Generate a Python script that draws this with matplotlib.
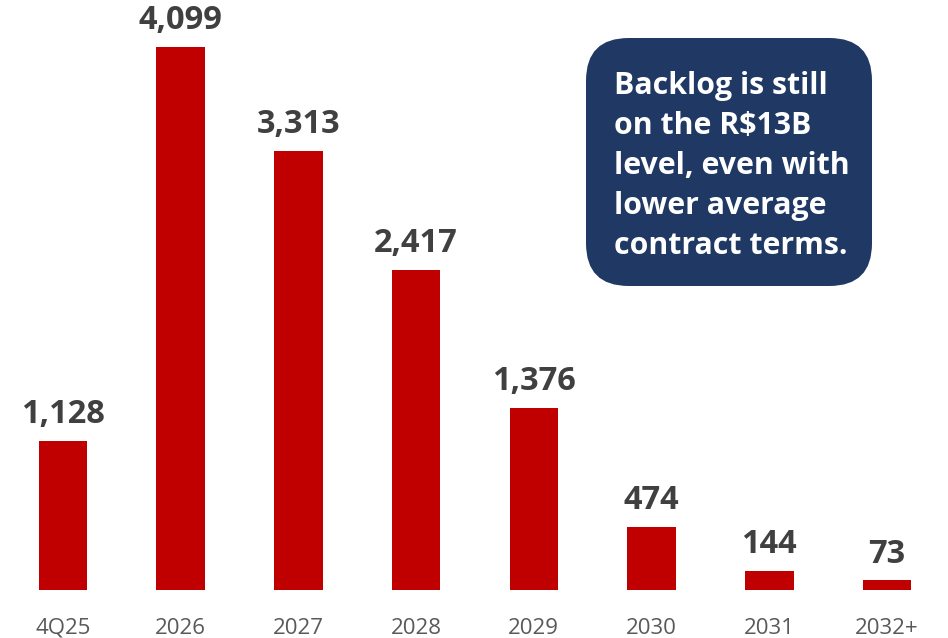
import matplotlib
matplotlib.use("Agg")
import matplotlib.pyplot as plt
from matplotlib.patches import FancyBboxPatch

categories = ["4Q25", "2026", "2027", "2028", "2029", "2030", "2031", "2032+"]
values = [1128, 4099, 3313, 2417, 1376, 474, 144, 73]
value_labels = ["1,128", "4,099", "3,313", "2,417", "1,376", "474", "144", "73"]
callout = "Backlog is still\non the R$13B\nlevel, even with\nlower average\ncontract terms."

plt.rcParams['font.family'] = ['Open Sans', 'DejaVu Sans']

fig = plt.figure(figsize=(9.48, 6.38), dpi=100)
ax = fig.add_axes([4/948, 48/638, 942/948, 590/638])
x = range(len(categories))
ax.bar(x, values, width=0.41, color="#C00000")
ax.set_xlim(-0.5, 7.5)
ax.set_ylim(0, 4453)
for xi, v, lab in zip(x, values, value_labels):
    ax.annotate(lab, (xi, v), xytext=(0, 7), textcoords="offset points",
                ha="center", va="bottom", fontsize=23.5, fontweight="bold", color="#404040")
ax.set_xticks(list(x))
ax.set_xticklabels(categories, fontsize=16, color="#595959")
ax.tick_params(axis="x", length=0, pad=20)
ax.set_yticks([])
for s in ax.spines.values():
    s.set_visible(False)

box = FancyBboxPatch((586/948, 1 - 286/638), (872-586)/948, (286-38)/638,
                     boxstyle="round,pad=0,rounding_size=0.045",
                     transform=fig.transFigure, facecolor="#1F3864", edgecolor="none",
                     mutation_aspect=948/638)
fig.patches.append(box)
fig.text(614/948, 1 - 166/638, callout, ha="left", va="center", fontsize=21.8,
         fontweight="bold", color="white", linespacing=1.43)

fig.savefig("out.png", dpi=100)
